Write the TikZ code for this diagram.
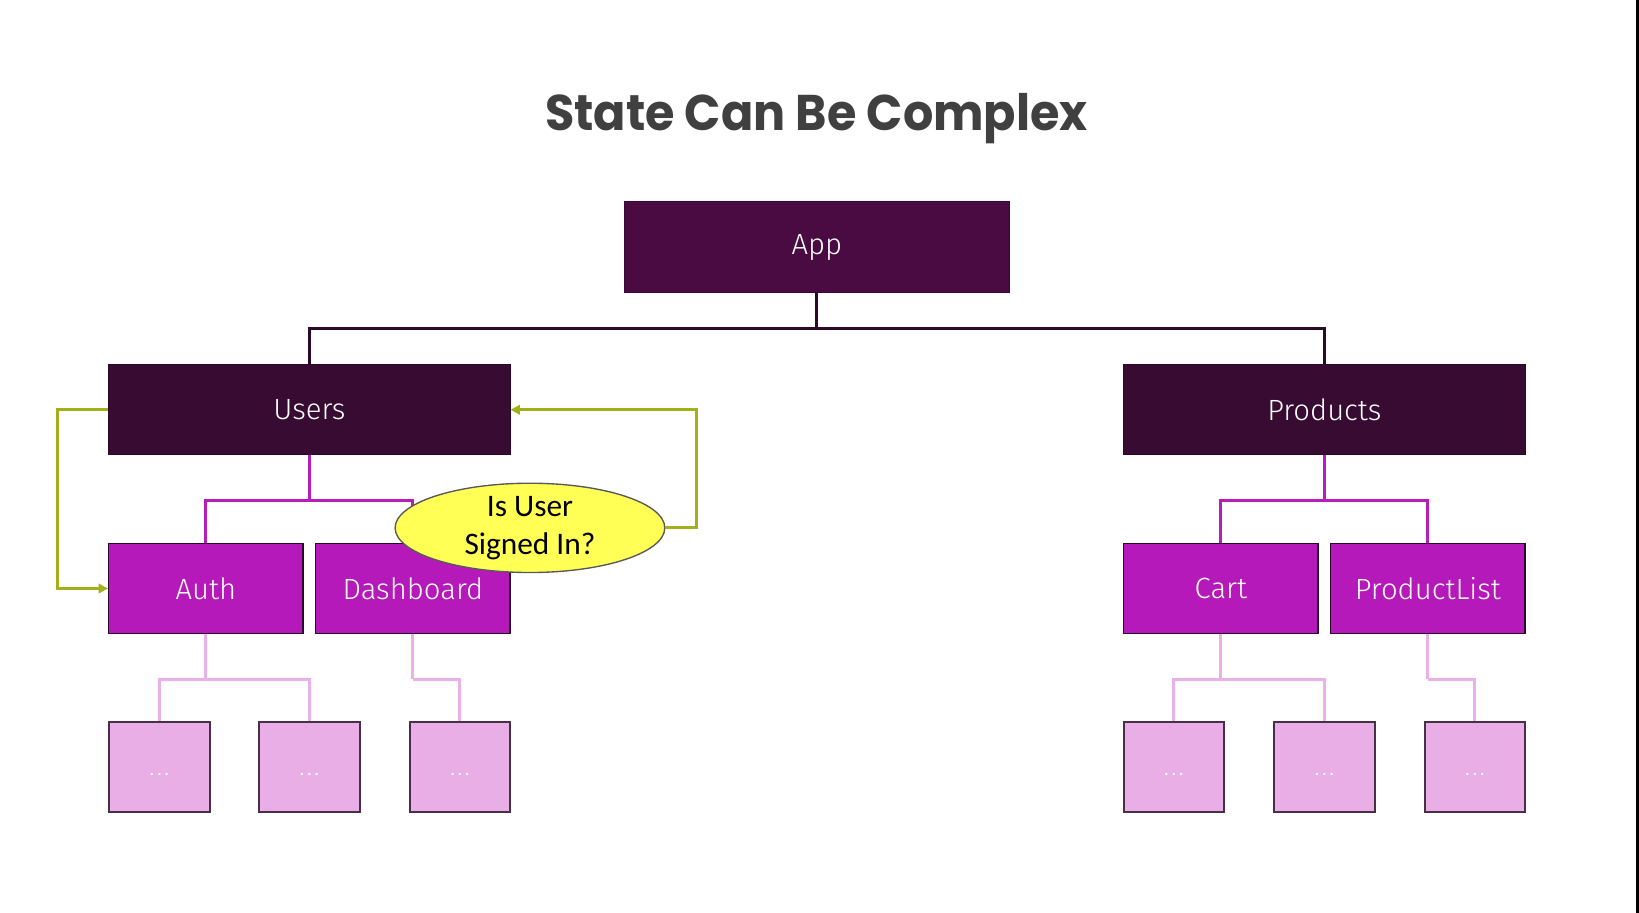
\documentclass[tikz,border=0pt]{standalone}
\usepackage{fontspec}
\usetikzlibrary{arrows.meta,shapes.geometric}
\newfontfamily\titlefont{Poppins}
\newfontfamily\boxfont{Fira Sans}[UprightFont={* Light}]
\newfontfamily\callfont{Carlito}
\definecolor{appfill}{HTML}{4A0A42}
\definecolor{midfill}{HTML}{380B33}
\definecolor{magfill}{HTML}{B619B9}
\definecolor{leaffill}{HTML}{E9AEE6}
\definecolor{darkline}{HTML}{2A0A28}
\definecolor{magline}{HTML}{B81CBC}
\definecolor{leafline}{HTML}{E9B0E9}
\definecolor{olivec}{HTML}{A3B019}
\definecolor{titlegray}{HTML}{404040}
\definecolor{ellfill}{HTML}{FFFF55}
\tikzset{
  topbox/.style={rectangle, fill=appfill, draw=appfill!80!black, line width=0.8pt, minimum width=369pt, minimum height=87pt, text=white, font=\boxfont\fontsize{28}{30}\selectfont},
  midbox/.style={rectangle, fill=midfill, draw=midfill!80!black, line width=0.8pt, minimum width=384pt, minimum height=86pt, text=white, font=\boxfont\fontsize{28}{30}\selectfont},
  magbox/.style={rectangle, fill=magfill, draw=darkline, line width=1.3pt, minimum width=186pt, minimum height=86pt, text=white, font=\boxfont\fontsize{28}{30}\selectfont},
  leafbox/.style={rectangle, fill=leaffill, draw=darkline!85, line width=1.8pt, minimum width=96pt, minimum height=86pt, text=white, font=\callfont\bfseries\fontsize{15}{18}\selectfont},
  callout/.style={ellipse, fill=ellfill, draw=black!65, line width=1.3pt, minimum width=258pt, minimum height=84pt, inner sep=0pt, align=center, font=\callfont\fontsize{30}{36}\selectfont},
  darkconn/.style={draw=darkline, line width=3pt},
  magconn/.style={draw=magline, line width=3pt},
  leafconn/.style={draw=leafline, line width=3pt},
  oliveconn/.style={draw=olivec, line width=3pt, -{Triangle[length=9pt,width=9pt]}},
}
\newcommand{\leafdots}{\raisebox{-8pt}[0pt][0pt]{.\kern3pt.\kern3pt.}}
\begin{document}
\begin{tikzpicture}[x=1pt,y=-1pt]
\useasboundingbox (0,0) rectangle (1568,873);
\fill[white] (0,0) rectangle (1568,873);
\fill[black] (1565.5,0) rectangle (1568,873);

\node[text=titlegray, font=\titlefont\bfseries\fontsize{48}{54}\selectfont] (title) at (781,113) {\scalebox{0.95}[1]{State Can Be Complex}};

% top
\node[topbox] (app) at (781.5,236.5) {App};
\node[midbox] (users) at (296,392) {Users};
\node[midbox] (products) at (1267,392) {Products};

% middle
\node[magbox] (auth) at (197,563) {Auth};
\node[magbox] (dash) at (395,563) {Dashboard};
\node[magbox] (cart) at (1168,563) {Cart};
\node[magbox] (plist) at (1366,563) {ProductList};

% leaves
\node[leafbox] (l1) at (152.5,734) {\leafdots};
\node[leafbox] (l2) at (296,734) {\leafdots};
\node[leafbox] (l3) at (440,734) {\leafdots};
\node[leafbox] (l4) at (1123,734) {\leafdots};
\node[leafbox] (l5) at (1267,734) {\leafdots};
\node[leafbox] (l6) at (1411,734) {\leafdots};

% connectors
\draw[darkconn] (app.south) -- ++(0,34) coordinate (j0);
\draw[darkconn] (j0) -| (users.north);
\draw[darkconn] (j0) -| (products.north);

\draw[magconn] (users.south) -- ++(0,43) coordinate (j1);
\draw[magconn] (j1) -| (auth.north);
\draw[magconn] (j1) -| (dash.north);
\draw[magconn] (products.south) -- ++(0,43) coordinate (j2);
\draw[magconn] (j2) -| (cart.north);
\draw[magconn] (j2) -| (plist.north);

\draw[leafconn] (auth.south) -- ++(0,43) coordinate (j3);
\draw[leafconn] (j3) -| (l1.north);
\draw[leafconn] (j3) -| (l2.north);
\draw[leafconn] (dash.south) -- ++(0,43) coordinate (j4);
\draw[leafconn] (j4) -| (l3.north);
\draw[leafconn] (cart.south) -- ++(0,43) coordinate (j5);
\draw[leafconn] (j5) -| (l4.north);
\draw[leafconn] (j5) -| (l5.north);
\draw[leafconn] (plist.south) -- ++(0,43) coordinate (j6);
\draw[leafconn] (j6) -| (l6.north);

% redraw boxes over connector ends
\node[magbox] at (auth) {Auth};
\node[magbox] at (dash) {Dashboard};
\node[magbox] at (cart) {Cart};
\node[magbox] at (plist) {ProductList};

% callout
\node[callout] (ell) at (507,505) {Is User\\Signed In?};

% feedback arrows
\draw[oliveconn] (users.west) -- ++(-49,0) coordinate (k1) |- (auth.west);
\draw[oliveconn] (ell.east) -- ++(30,0) coordinate (k2) |- (users.east);
\end{tikzpicture}
\end{document}
